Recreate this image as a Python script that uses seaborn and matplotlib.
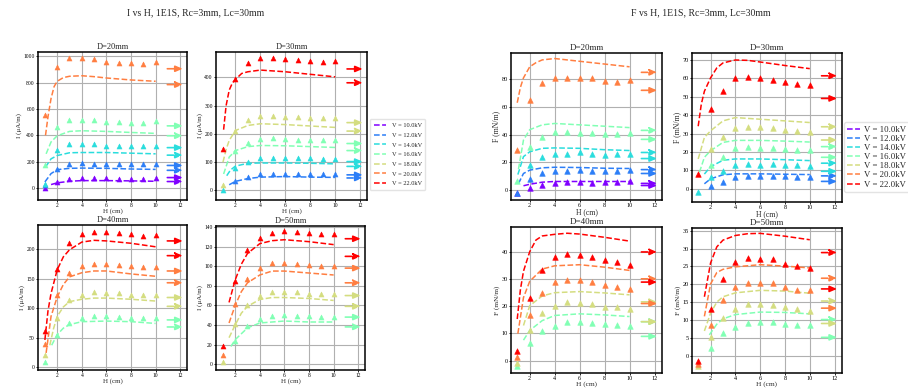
import numpy as np
import matplotlib
matplotlib.use("Agg")
import matplotlib.pyplot as plt
import seaborn as sns
from matplotlib.lines import Line2D

nan = np.nan

# ---------------- data ----------------
H = [1, 2, 3, 4, 5, 6, 7, 8, 9, 10]
VOLTAGES = [10, 12, 14, 16, 18, 20, 22]
LEGEND_LABELS = [f"V = {v:.1f}kV" for v in VOLTAGES]

# I vs H, D=20mm
I20_meas = {10: [0, 45, 70, 77, 75, 75, 72, 72, 72, 75],
            12: [20, 147, 182, 187, 185, 182, 182, 182, 182, 182],
            14: [35, 292, 332, 337, 332, 322, 322, 320, 320, 322],
            16: [177, 467, 517, 520, 515, 502, 502, 497, 497, 507],
            20: [552, 915, 985, 985, 977, 957, 952, 945, 940, 957]}
I20_fit_x = {10: [1.5, 2, 3, 4, 6, 8, 10],
             12: [1, 1.5, 2, 3, 4, 6, 8, 10],
             14: [1.05, 1.5, 2, 3, 4, 6, 8, 10],
             16: [1.1, 1.5, 2, 3, 4, 6, 8, 10],
             20: [1.05, 1.25, 1.5, 1.75, 2, 2.5, 3, 4, 5, 6, 8, 10]}
I20_fit_y = {10: [27, 40, 52, 57, 57, 55, 52],
             12: [47, 110, 140, 150, 152, 150, 145, 142],
             14: [160, 222, 247, 268, 270, 270, 265, 260],
             16: [260, 350, 397, 430, 435, 430, 422, 415],
             20: [400, 540, 680, 770, 810, 838, 848, 852, 845, 835, 820, 810]}
I20_arrow_solid = {10: 80, 12: 172, 14: 307, 16: 472, 20: 905}
I20_arrow_dash = {10: 50, 12: 135, 14: 250, 16: 397, 20: 785}

# I vs H, D=30mm
I30_meas = {12: [nan, 34, 47, 58, 59, 59, 58, 58, 57, 58],
            14: [0, 81, 101, 115, 115, 114, 113, 113, 110, 112],
            16: [nan, 141, 167, 183, 184, 182, 179, 179, 177, 178],
            18: [18, 210, 248, 262, 265, 261, 259, 258, 255, 256],
            22: [147, 396, 450, 469, 469, 465, 462, 459, 453, 459]}
I30_fit_x = {12: [1.5, 2, 3, 4, 6, 8, 10],
             14: [1.3, 1.6, 2, 3, 4, 6, 8, 10],
             16: [1.05, 1.5, 2, 3, 4, 6, 8, 10],
             18: [1, 1.25, 1.5, 2, 3, 4, 6, 8, 10],
             22: [1.05, 1.25, 1.5, 1.75, 2, 2.5, 3, 4, 6, 8, 10]}
I30_fit_y = {12: [20, 32, 42, 47, 49, 47, 46],
             14: [52, 72, 86, 96, 97, 97, 96, 94],
             16: [58, 118, 141, 155, 159, 158, 155, 152],
             18: [100, 145, 177, 212, 230, 236, 233, 228, 223],
             22: [215, 300, 355, 380, 393, 414, 420, 426, 420, 411, 402]}
I30_arrow_solid = {12: 55, 14: 102, 16: 166, 18: 240, 22: 430}
I30_arrow_dash = {12: 44, 14: 85, 16: 141, 18: 210, 22: 381}

# I vs H, D=40mm
I40_meas = {16: [8, 54, 75, 83, 86, 86, 85, 84, 83, 83],
            18: [20, 84, 114, 123, 127, 126, 125, 123, 123, 123],
            20: [39, 122, 159, 171, 174, 174, 173, 171, 170, 170],
            22: [61, 167, 210, 225, 229, 229, 227, 225, 223, 224]}
I40_fit_x = {16: [1.55, 2, 2.5, 3, 4, 6, 8, 10],
             18: [1.4, 1.7, 2, 2.5, 3, 4, 5, 6, 8, 10],
             20: [1.1, 1.5, 2, 2.5, 3, 4, 5, 6, 8, 10],
             22: [1, 1.25, 1.5, 2, 2.5, 3, 4, 5, 6, 8, 10]}
I40_fit_y = {16: [37, 55, 66, 72, 77, 78, 77, 74],
             18: [37, 65, 86, 102, 111, 115, 117, 117, 115, 112],
             20: [24, 86, 119, 140, 153, 160, 163, 163, 158, 154],
             22: [46, 95, 125, 165, 187, 199, 212, 215, 214, 210, 204]}
I40_arrow_solid = {16: 80, 18: 118, 20: 163, 22: 214}
I40_arrow_dash = {16: 68, 18: 103, 20: 143, 22: 189}

# I vs H, D=50mm
I50_meas = {16: [nan, 24, 39, 46, 49, 50, 49, 49, 48, 48],
            18: [2, 41, 60, 70, 74, 74, 74, 72, 72, 72],
            20: [9, 61, 87, 98, 103, 103, 102, 101, 100, 100],
            22: [19, 85, 116, 129, 134, 136, 135, 134, 133, 133]}
I50_fit_x = {16: [1.65, 2, 3, 4, 6, 8, 10],
             18: [1.5, 2, 2.5, 3, 4, 5, 6, 8, 10],
             20: [1.5, 2, 2.5, 3, 4, 5, 6, 8, 10],
             22: [1.5, 2, 2.5, 3, 4, 5, 6, 8, 10]}
I50_fit_y = {16: [18, 25, 37, 42, 44, 43, 43],
             18: [27, 40, 52, 59, 66, 68, 68, 67, 65],
             20: [42, 60, 74, 83, 91, 95, 95, 93, 91],
             22: [63, 86, 102, 113, 123, 126, 127, 125, 122]}
I50_arrow_solid = {16: 48, 18: 70, 20: 98, 22: 128}
I50_arrow_dash = {16: 38, 18: 59, 20: 83, 22: 110}

# F vs H, D=20mm
F20_meas = {10: [-2, 1.4, 3.8, 4.6, 5.8, 5.5, 5, 5.5, 5.5, 6],
            12: [-2, 8, 12, 13.7, 13.5, 14.2, 13.7, 13.7, 13.7, 14.6],
            14: [nan, 18, 24, 26, 26, 27.5, 26, 25.5, 26, 26],
            16: [6, 31, 38, 41.5, 41.5, 41, 41, 40.5, 40.5, 41],
            20: [28.6, 65, 77, 81, 81, 81, 81, 79, 78, 79.5]}
F20_fit_x = {10: [1.5, 2, 3, 4, 6, 8, 10],
             12: [1.1, 1.5, 2, 3, 4, 6, 8, 10],
             14: [1.05, 1.5, 2, 3, 4, 6, 8, 10],
             16: [1.1, 1.5, 2, 3, 4, 6, 8, 10],
             20: [1, 1.25, 1.5, 2, 2.5, 3, 4, 6, 8, 10]}
F20_fit_y = {10: [2.9, 4, 5.5, 6, 6, 6, 6],
             12: [4.5, 11.8, 14.2, 15.9, 16.3, 16.1, 15.6, 15.4],
             14: [11, 24, 27.5, 30, 30.3, 30, 29, 28.4],
             16: [15, 36, 43.5, 47, 48, 47, 46, 45],
             20: [63, 74, 81, 89, 92, 94, 95, 93, 91, 89]}
F20_arrow_solid = {10: 3.1, 12: 11.8, 14: 22.6, 16: 36.5, 20: 72}
F20_arrow_dash = {10: 4.6, 12: 14.6, 14: 27, 16: 43, 20: 85}

# F vs H, D=30mm
F30_meas = {12: [nan, 1.6, 3.6, 6.5, 6.8, 6.8, 6.8, 6.7, 6.5, 6.3],
            14: [-2, 6.3, 9.5, 12.8, 13.3, 13.1, 13.3, 13.1, 13, 12.4],
            16: [nan, 13, 17.5, 22, 22.5, 22.3, 22, 21.6, 21.2, 21],
            18: [nan, 21.4, 27.9, 32.9, 33.7, 33.7, 32.9, 32, 31.5, 31.1],
            22: [8.1, 43.2, 53.4, 60, 60.6, 60.3, 59.2, 58.1, 56.9, 56.5]}
F30_fit_x = {12: [1.5, 2, 3, 4, 6, 8, 10],
             14: [1.5, 2, 3, 4, 6, 8, 10],
             16: [1.1, 1.5, 2, 3, 4, 6, 8, 10],
             18: [1, 1.5, 2, 3, 4, 6, 8, 10],
             22: [1, 1.25, 1.5, 2, 2.5, 3, 4, 5, 6, 8, 10]}
F30_fit_y = {12: [2.7, 5.4, 7.6, 8.1, 8.1, 7.9, 7.7],
             14: [8, 12, 15.5, 16.2, 16.2, 15.8, 15.3],
             16: [9, 17.1, 20.7, 25.2, 26.3, 26.3, 25.9, 25.4],
             18: [16.2, 27.9, 31.5, 36.9, 38.7, 37.8, 36.9, 36],
             22: [34, 46, 53, 60.3, 65.7, 68.4, 70, 69.8, 68.9, 67, 65.3]}
F30_arrow_solid = {12: 4, 14: 9.5, 16: 17.1, 18: 26.5, 22: 49.1}
F30_arrow_dash = {12: 7, 14: 13.9, 16: 22.9, 18: 33.7, 22: 61.4}

# F vs H, D=40mm
F40_meas = {16: [-1.9, 6.3, 10.8, 12.7, 14.1, 14.1, 14, 13.3, 13.1, 12.9],
            18: [-1, 11.1, 17.4, 20.2, 21.4, 21.3, 20.8, 19.9, 19.6, 19],
            20: [1.2, 16.6, 24.8, 29, 29.8, 29.5, 29, 28, 27.1, 26.5],
            22: [3.6, 23.2, 33.2, 38.3, 39.3, 38.8, 38.2, 37.1, 36.3, 35.3]}
F40_fit_x = {16: [1.5, 2, 3, 4, 6, 8, 10],
             18: [1.5, 2, 3, 4, 6, 8, 10],
             20: [1.05, 1.5, 2, 3, 4, 6, 8, 10],
             22: [1, 1.25, 1.5, 2, 2.5, 3, 4, 5, 6, 8, 10]}
F40_fit_y = {16: [7.5, 11.1, 14.7, 16.6, 17.2, 16.8, 16.2],
             18: [12.9, 20.2, 23.8, 25, 25.4, 24.9, 24.2],
             20: [9.9, 23.2, 29.2, 33.7, 34.9, 35.3, 34.4, 33.2],
             22: [15.3, 26, 32.9, 40.1, 44.4, 45.9, 46.5, 46.9, 46.6, 45.4, 44]}
F40_arrow_solid = {16: 8.9, 18: 14.3, 20: 21, 22: 28.9}
F40_arrow_dash = {16: 14.3, 18: 21.6, 20: 30.1, 22: 40}

# F vs H, D=50mm
F50_meas = {16: [nan, 2.1, 6.3, 8.1, 9.2, 9.4, 9.4, 8.8, 8.5, 8.5],
            18: [-2.8, 5.1, 10.5, 13, 14.4, 14.4, 14.2, 13.5, 13.1, 12.6],
            20: [-2.5, 8.7, 15.5, 19.2, 20.4, 20.4, 20.3, 19.2, 18.5, 18.3],
            22: [-1.5, 13, 21.5, 26.2, 27.4, 27.2, 27, 25.8, 25.1, 24.6]}
F50_fit_x = {16: [1.9, 2.5, 3, 4, 6, 8, 10],
             18: [1.5, 2, 2.5, 3, 4, 6, 8, 10],
             20: [1.5, 2, 2.5, 3, 4, 6, 8, 10],
             22: [1.5, 2, 2.5, 3, 4, 5, 6, 8, 10]}
F50_fit_y = {16: [5.8, 8.8, 10.3, 11.5, 12.2, 12.1, 11.7],
             18: [6.9, 11.9, 15, 16.5, 17.6, 18.3, 18.1, 17.5],
             20: [11, 20.1, 23.3, 24.2, 24.9, 25.5, 25.1, 24.6],
             22: [16.5, 26, 30.5, 32.4, 33.7, 34.2, 34.3, 33.5, 32.5]}
F50_arrow_solid = {16: 5.1, 18: 9, 20: 13.3, 22: 18.7}
F50_arrow_dash = {16: 10.1, 18: 15.3, 20: 21.7, 22: 28.9}

# ---------------- style ----------------
sns.set_theme(style="whitegrid")
plt.rcParams['font.family'] = ['Liberation Serif', 'DejaVu Serif']
plt.rcParams['mathtext.fontset'] = 'dejavuserif'

cmap = plt.cm.rainbow
COLORS = {v: cmap(i / (len(VOLTAGES) - 1)) for i, v in enumerate(VOLTAGES)}

W, Hpx = 908, 388
fig = plt.figure(figsize=(W / 100, Hpx / 100), dpi=100)
fig.patch.set_facecolor('white')


def add_axes(l, t, r, b):
    return fig.add_axes([l / W, 1 - b / Hpx, (r - l) / W, (b - t) / Hpx])


def draw_arrow(ax, y, c, dashed):
    ax.annotate('', xy=(12.2, y), xytext=(10.95, y),
                arrowprops=dict(arrowstyle='-|>,head_length=0.7,head_width=0.3',
                                color=c, lw=1.2, ls='--' if dashed else '-',
                                shrinkA=0, shrinkB=0, mutation_scale=6))


def panel(rect, title, ylabel, meas, fx, fy, asol, adash, ylim, yticks,
          xlim, fs_tick, fs_lab, fs_title, msize):
    ax = add_axes(*rect)
    ax.set_facecolor('white')
    for v in meas:
        c = COLORS[v]
        sns.lineplot(x=fx[v], y=fy[v], ax=ax, color=c, linestyle='--',
                     lw=1.1, sort=False, estimator=None)
        sns.scatterplot(x=H, y=meas[v], ax=ax, color=c, marker='^',
                        s=msize, edgecolor=c, linewidth=0.4, zorder=3)
    for v in meas:
        draw_arrow(ax, asol[v], COLORS[v], False)
        draw_arrow(ax, adash[v], COLORS[v], True)
    ax.set_xlim(*xlim)
    ax.set_ylim(*ylim)
    ax.set_xticks([2, 4, 6, 8, 10, 12])
    ax.set_yticks(yticks)
    ax.grid(True, color='#b0b0b0', lw=0.8)
    for s in ax.spines.values():
        s.set_color('black')
        s.set_linewidth(1.1)
    ax.tick_params(axis='both', which='both', labelsize=fs_tick, length=1.5,
                   width=0.6, pad=0.8, colors='black', bottom=True, left=True)
    ax.set_xlabel('H (cm)', fontsize=fs_lab, labelpad=0)
    ax.set_ylabel(ylabel, fontsize=fs_lab, labelpad=1)
    ax.set_title(title, fontsize=fs_title, pad=2)
    return ax


IX = (0.44, 12.55)
FX = (0.5, 12.6)
panel((38, 52, 187, 200), 'D=20mm', 'I (μA/m)', I20_meas, I20_fit_x, I20_fit_y,
      I20_arrow_solid, I20_arrow_dash, (-90, 1032), [0, 200, 400, 600, 800, 1000],
      IX, 4, 5, 6, 13)
panel((216, 52, 367, 200), 'D=30mm', 'I (μA/m)', I30_meas, I30_fit_x, I30_fit_y,
      I30_arrow_solid, I30_arrow_dash, (-34, 490), [0, 100, 200, 300, 400],
      IX, 4, 5, 6, 13)
panel((38, 225, 187, 370), 'D=40mm', 'I (μA/m)', I40_meas, I40_fit_x, I40_fit_y,
      I40_arrow_solid, I40_arrow_dash, (-5, 241), [0, 50, 100, 150, 200],
      IX, 4, 5, 6, 13)
panel((216, 226, 365, 370), 'D=50mm', 'I (μA/m)', I50_meas, I50_fit_x, I50_fit_y,
      I50_arrow_solid, I50_arrow_dash, (-6, 141), [0, 20, 40, 60, 80, 100, 120, 140],
      IX, 4, 5, 6, 13)

panel((511, 53, 662, 200), 'D=20mm', 'F (mN/m)', F20_meas, F20_fit_x, F20_fit_y,
      F20_arrow_solid, F20_arrow_dash, (-7.4, 99), [0, 20, 40, 60, 80],
      FX, 4.5, 5.5, 6.5, 16)
panel((692, 53, 842, 202), 'D=30mm', 'F (mN/m)', F30_meas, F30_fit_x, F30_fit_y,
      F30_arrow_solid, F30_arrow_dash, (-7.2, 73.8), [0, 10, 20, 30, 40, 50, 60, 70],
      FX, 4.5, 5.5, 6.5, 16)
panel((511, 227, 662, 373), 'D=40mm', 'F (mN/m)', F40_meas, F40_fit_x, F40_fit_y,
      F40_arrow_solid, F40_arrow_dash, (-4.6, 49.2), [0, 10, 20, 30, 40],
      FX, 4.5, 5.2, 6.5, 16)
panel((692, 228, 842, 373), 'D=50mm', 'F (mN/m)', F50_meas, F50_fit_x, F50_fit_y,
      F50_arrow_solid, F50_arrow_dash, (-4.9, 35.8), [0, 5, 10, 15, 20, 25, 30, 35],
      FX, 4.5, 5.2, 6.5, 16)

# legends
handles = [Line2D([0], [0], color=COLORS[v], ls='--', lw=1.1) for v in VOLTAGES]
fig.legend(handles, LEGEND_LABELS, loc='upper left',
           bbox_to_anchor=(367 / W, 1 - 116 / Hpx), fontsize=4.6,
           labelspacing=0.66, handlelength=2.0, handletextpad=0.8,
           borderpad=0.55, frameon=True, edgecolor='#dddddd', fancybox=True)
fig.legend(handles, LEGEND_LABELS, loc='upper left',
           bbox_to_anchor=(840 / W, 1 - 118 / Hpx), fontsize=6.3,
           labelspacing=0.12, handlelength=1.45, handletextpad=0.45,
           borderpad=0.35, frameon=True, edgecolor='#dddddd', fancybox=True)

fig.text(196 / W, 1 - 13 / Hpx, 'I vs H, 1E1S, Rc=3mm, Lc=30mm', ha='center',
         va='center', fontsize=7)
fig.text(701 / W, 1 - 13 / Hpx, 'F vs H, 1E1S, Rc=3mm, Lc=30mm', ha='center',
         va='center', fontsize=7)

fig.savefig('out.png', dpi=100)
